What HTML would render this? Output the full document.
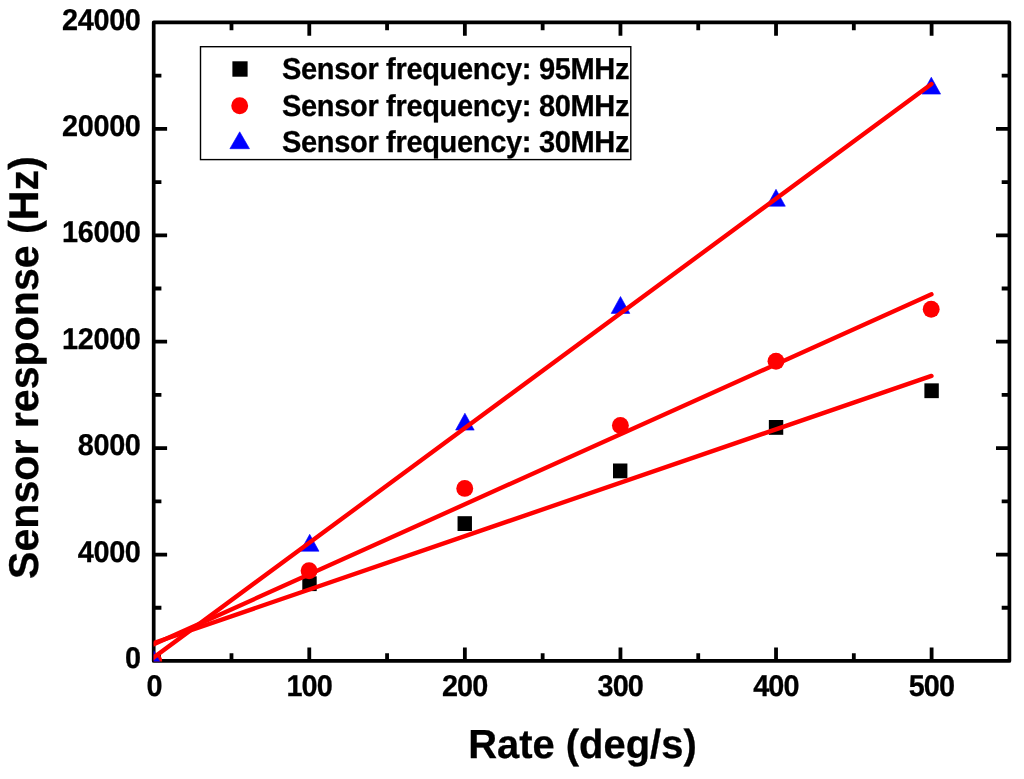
<!DOCTYPE html>
<html lang="en"><head><meta charset="utf-8"><title>Sensor response vs rate</title>
<style>html,body{margin:0;padding:0;background:#fff;}body{width:1024px;height:779px;overflow:hidden;}svg{display:block;will-change:transform;}text{text-rendering:geometricPrecision;font-family:"Liberation Sans",Arial,sans-serif;font-weight:bold;fill:#000;stroke:#000;stroke-width:0.3px;}</style>
</head><body>
<svg width="1024" height="779" viewBox="0 0 1024 779">
<rect x="0" y="0" width="1024" height="779" fill="#fff"/>
<defs><clipPath id="pc"><rect x="153.70" y="22.45" width="855.70" height="639.10"/></clipPath></defs>
<rect x="153.70" y="22.45" width="855.70" height="638.50" fill="none" stroke="#000" stroke-width="3.7" stroke-linejoin="round"/>
<g stroke="#000" stroke-width="3.8" stroke-linecap="butt" fill="none">
<path d="M231.49 660.95V653.25M231.49 22.45V30.15"/>
<path d="M309.28 660.95V647.55M309.28 22.45V35.85"/>
<path d="M387.07 660.95V653.25M387.07 22.45V30.15"/>
<path d="M464.86 660.95V647.55M464.86 22.45V35.85"/>
<path d="M542.65 660.95V653.25M542.65 22.45V30.15"/>
<path d="M620.45 660.95V647.55M620.45 22.45V35.85"/>
<path d="M698.24 660.95V653.25M698.24 22.45V30.15"/>
<path d="M776.03 660.95V647.55M776.03 22.45V35.85"/>
<path d="M853.82 660.95V653.25M853.82 22.45V30.15"/>
<path d="M931.61 660.95V647.55M931.61 22.45V35.85"/>
<path d="M153.70 607.74H161.40M1009.40 607.74H1001.70"/>
<path d="M153.70 554.53H167.10M1009.40 554.53H996.00"/>
<path d="M153.70 501.33H161.40M1009.40 501.33H1001.70"/>
<path d="M153.70 448.12H167.10M1009.40 448.12H996.00"/>
<path d="M153.70 394.91H161.40M1009.40 394.91H1001.70"/>
<path d="M153.70 341.70H167.10M1009.40 341.70H996.00"/>
<path d="M153.70 288.49H161.40M1009.40 288.49H1001.70"/>
<path d="M153.70 235.28H167.10M1009.40 235.28H996.00"/>
<path d="M153.70 182.07H161.40M1009.40 182.07H1001.70"/>
<path d="M153.70 128.87H167.10M1009.40 128.87H996.00"/>
<path d="M153.70 75.66H161.40M1009.40 75.66H1001.70"/>
</g>
<g font-size="30.0">
<text transform="translate(140.60 668.15) scale(0.962 1)" text-anchor="end" letter-spacing="-0.347">0</text>
<text transform="translate(140.60 561.73) scale(0.962 1)" text-anchor="end" letter-spacing="-0.347">4000</text>
<text transform="translate(140.60 455.32) scale(0.962 1)" text-anchor="end" letter-spacing="-0.347">8000</text>
<text transform="translate(140.60 348.90) scale(0.962 1)" text-anchor="end" letter-spacing="-0.347">12000</text>
<text transform="translate(140.60 242.48) scale(0.962 1)" text-anchor="end" letter-spacing="-0.347">16000</text>
<text transform="translate(140.60 136.07) scale(0.962 1)" text-anchor="end" letter-spacing="-0.347">20000</text>
<text transform="translate(140.60 29.65) scale(0.962 1)" text-anchor="end" letter-spacing="-0.347">24000</text>
<text transform="translate(154.00 695.7) scale(0.962 1)" text-anchor="middle" letter-spacing="-0.98">0</text>
<text transform="translate(309.08 695.7) scale(0.962 1)" text-anchor="middle" letter-spacing="-0.98">100</text>
<text transform="translate(464.66 695.7) scale(0.962 1)" text-anchor="middle" letter-spacing="-0.98">200</text>
<text transform="translate(620.25 695.7) scale(0.962 1)" text-anchor="middle" letter-spacing="-0.98">300</text>
<text transform="translate(775.83 695.7) scale(0.962 1)" text-anchor="middle" letter-spacing="-0.98">400</text>
<text transform="translate(931.41 695.7) scale(0.962 1)" text-anchor="middle" letter-spacing="-0.98">500</text>
</g>
<text transform="translate(468.2 757.9) scale(0.9838 1)" font-size="40.6">Rate (deg/s)</text>
<text transform="translate(38.2 579.0) rotate(-90) scale(0.9885 1)" font-size="41.6">Sensor response (Hz)</text>
<rect x="200.5" y="46.7" width="430.3" height="112.9" fill="#fff" stroke="#000" stroke-width="1.4"/>
<g clip-path="url(#pc)">
<rect x="146.50" y="653.55" width="14.4" height="14.8" fill="#000"/>
<rect x="302.30" y="576.30" width="14.4" height="14.8" fill="#000"/>
<rect x="457.55" y="516.20" width="14.4" height="14.8" fill="#000"/>
<rect x="613.00" y="463.50" width="14.4" height="14.8" fill="#000"/>
<rect x="768.85" y="420.00" width="14.4" height="14.8" fill="#000"/>
<rect x="924.40" y="383.35" width="14.4" height="14.8" fill="#000"/>
<circle cx="153.70" cy="660.95" r="8.45" fill="#f00"/>
<circle cx="309.10" cy="570.80" r="8.45" fill="#f00"/>
<circle cx="464.75" cy="488.40" r="8.45" fill="#f00"/>
<circle cx="620.40" cy="425.40" r="8.45" fill="#f00"/>
<circle cx="776.00" cy="361.20" r="8.45" fill="#f00"/>
<circle cx="931.20" cy="309.30" r="8.45" fill="#f00"/>
<path d="M153.70 650.45L163.00 667.35H144.40Z" fill="#00f" stroke="#00f" stroke-width="0.6" stroke-linejoin="round"/>
<path d="M309.70 534.30L319.00 551.20H300.40Z" fill="#00f" stroke="#00f" stroke-width="0.6" stroke-linejoin="round"/>
<path d="M464.90 413.20L474.20 430.10H455.60Z" fill="#00f" stroke="#00f" stroke-width="0.6" stroke-linejoin="round"/>
<path d="M620.50 296.50L629.80 313.40H611.20Z" fill="#00f" stroke="#00f" stroke-width="0.6" stroke-linejoin="round"/>
<path d="M776.00 189.30L785.30 206.20H766.70Z" fill="#00f" stroke="#00f" stroke-width="0.6" stroke-linejoin="round"/>
<path d="M931.30 77.20L940.60 94.10H922.00Z" fill="#00f" stroke="#00f" stroke-width="0.6" stroke-linejoin="round"/>
<g stroke="#f00" stroke-width="4.35" stroke-linecap="round" fill="none">
<path d="M148.70 644.72L931.5 375.9"/>
<path d="M148.70 646.55L931.5 294.3"/>
<path d="M148.70 661.19L931.5 84.0"/>
</g></g>
<rect x="232.40" y="61.30" width="15.2" height="15.4" fill="#000"/>
<circle cx="239.70" cy="105.70" r="8.45" fill="#f00"/>
<path d="M239.70 131.80L249.50 148.70H229.90Z" fill="#00f" stroke="#00f" stroke-width="0.6" stroke-linejoin="round"/>
<g font-size="30.2">
<text transform="translate(282.0 79.2) scale(0.962 1)" letter-spacing="-0.356">Sensor frequency: 95MHz</text>
<text transform="translate(282.0 115.7) scale(0.962 1)" letter-spacing="-0.356">Sensor frequency: 80MHz</text>
<text transform="translate(282.0 152.1) scale(0.962 1)" letter-spacing="-0.356">Sensor frequency: 30MHz</text>
</g>
</svg></body></html>
